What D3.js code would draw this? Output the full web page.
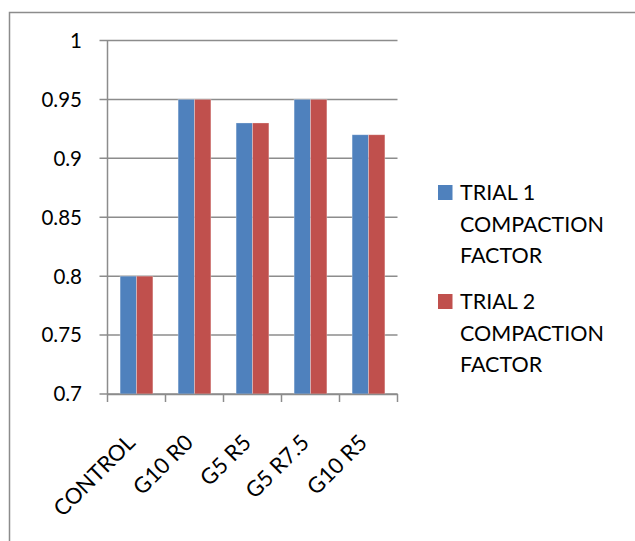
<!DOCTYPE html>
<html>
<head>
<meta charset="utf-8">
<script src="https://cdn.jsdelivr.net/npm/d3@7"></script>
<style>
  html, body { margin: 0; padding: 0; background: #fff; }
  svg { display: block; font-family: Lato, "Open Sans", sans-serif; }
</style>
</head>
<body>
<svg id="chart" width="635" height="541"></svg>
<script>
// Mixes and the compaction factor measured in each trial
const mixes = ["CONTROL", "G10 R0", "G5 R5", "G5 R7.5", "G10 R5"];
const trial1 = [0.80, 0.95, 0.93, 0.95, 0.92];
const trial2 = [0.80, 0.95, 0.93, 0.95, 0.92];
const seriesNames = [["TRIAL 1", "COMPACTION", "FACTOR"], ["TRIAL 2", "COMPACTION", "FACTOR"]];
const yTicks = [0.7, 0.75, 0.8, 0.85, 0.9, 0.95, 1];
const colors = ["#4f81bd", "#c0504d"];

const svg = d3.select("#chart");
const gridColor = "#8c8c8c";

// outer chart frame (runs past the right and bottom edges)
svg.append("rect")
  .attr("x", 9.5).attr("y", 12.5)
  .attr("width", 700).attr("height", 600)
  .attr("fill", "none").attr("stroke", gridColor).attr("stroke-width", 1.5);

const plot = { left: 107.5, right: 397.5, top: 40.5, bottom: 394 };

const x = d3.scaleBand().domain(mixes).range([plot.left, plot.right]);
const y = d3.scaleLinear().domain([0.7, 1]).range([plot.bottom, plot.top]);

// horizontal gridlines with short tick stubs on the left
svg.append("g").selectAll("line").data(yTicks).join("line")
  .attr("x1", plot.left - 8).attr("x2", plot.right)
  .attr("y1", d => y(d)).attr("y2", d => y(d))
  .attr("stroke", gridColor).attr("stroke-width", 1.5);

// y tick labels
svg.append("g").selectAll("text").data(yTicks).join("text")
  .attr("x", 82).attr("y", d => y(d))
  .attr("dy", "0.36em")
  .attr("text-anchor", "end")
  .attr("font-size", 20.5).attr("fill", "#000")
  .text(d => d3.format("")(d));

// bars
const groupW = x.bandwidth() * 0.565;
const barW = groupW / 2;
const bars = svg.append("g");
[trial1, trial2].forEach((vals, s) => {
  bars.append("g").selectAll("rect").data(vals).join("rect")
    .attr("x", (d, i) => x(mixes[i]) + (x.bandwidth() - groupW) / 2 + s * barW)
    .attr("y", d => y(d))
    .attr("width", barW)
    .attr("height", d => y(0.7) - y(d))
    .attr("fill", colors[s])
    .attr("stroke", "#ffffff").attr("stroke-opacity", 0.35).attr("stroke-width", 0.8);
});

// axes lines
svg.append("line")
  .attr("x1", plot.left).attr("x2", plot.left)
  .attr("y1", plot.top).attr("y2", plot.bottom)
  .attr("stroke", gridColor).attr("stroke-width", 1.5);

const xAxis = d3.axisBottom(x).tickSize(0).tickFormat("");
const gx = svg.append("g").attr("transform", `translate(0,${plot.bottom})`).call(xAxis);
gx.select(".domain").attr("stroke", gridColor).attr("stroke-width", 1.5);

// category boundary ticks below the axis
const bounds = mixes.map(m => x(m)).concat([plot.right]);
svg.append("g").selectAll("line").data(bounds).join("line")
  .attr("x1", d => d).attr("x2", d => d)
  .attr("y1", plot.bottom).attr("y2", plot.bottom + 8)
  .attr("stroke", gridColor).attr("stroke-width", 1.5);

// rotated category labels
svg.append("g").selectAll("text").data(mixes).join("text")
  .attr("transform", d => `translate(${x(d) + x.bandwidth() / 2},${plot.bottom + 50}) rotate(-45)`)
  .attr("text-anchor", "end")
  .attr("font-size", 22).attr("fill", "#000")
  .text(d => d);

// legend
const legend = svg.append("g");
const legendTops = [185, 294];
seriesNames.forEach((lines, s) => {
  const g = legend.append("g").attr("transform", `translate(438,${legendTops[s]})`);
  g.append("rect").attr("x", 0).attr("y", 0).attr("width", 14.5).attr("height", 15)
    .attr("fill", colors[s]);
  g.append("text")
    .attr("x", 22).attr("y", 15)
    .attr("font-size", 21.5).attr("fill", "#000")
    .selectAll("tspan").data(lines).join("tspan")
    .attr("x", 22)
    .attr("dy", (d, i) => i === 0 ? 0 : 31.5)
    .text(d => d);
});
</script>
</body>
</html>
